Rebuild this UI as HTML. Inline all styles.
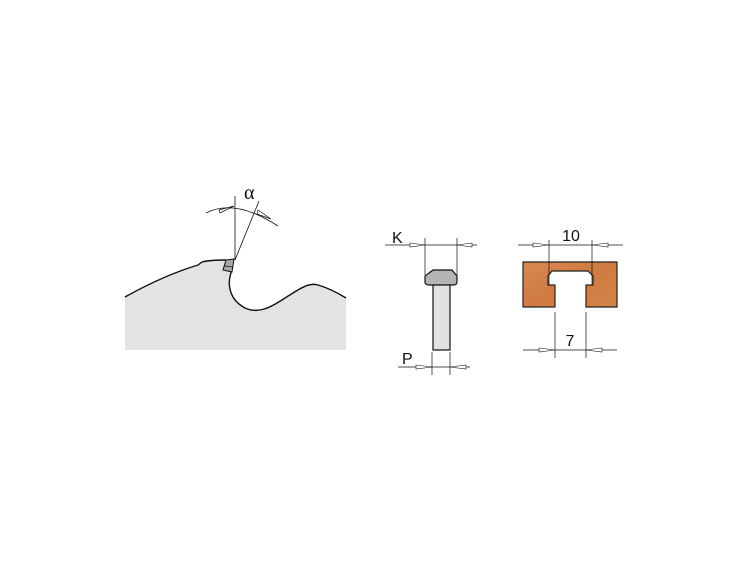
<!DOCTYPE html>
<html><head><style>body{margin:0;background:#fff}svg{display:block}</style></head><body>
<svg width="750" height="565" viewBox="0 0 750 565" xmlns="http://www.w3.org/2000/svg">
<defs>
<linearGradient id="w" x1="0" y1="0" x2="1" y2="1"><stop offset="0" stop-color="#d9894f"/><stop offset="0.5" stop-color="#cf7b42"/><stop offset="1" stop-color="#d58448"/></linearGradient>
</defs>
<!-- saw -->
<path d="M125,297 C150,283 175,272 198,265 L202,262 C210,260 220,260 226,260 L232,270 C226,285 230,300 245,308 C258,314 270,308 285,298 C298,290 308,282 318,285 C328,288 338,293 346,298 L346,350 L125,350 Z" fill="#e3e3e3"/>
<path d="M125,297 C150,283 175,272 198,265 L202,262 C210,260 220,260 226,260 M232,270 C226,285 230,300 245,308 C258,314 270,308 285,298 C298,290 308,282 318,285 C328,288 338,293 346,298" fill="none" stroke="#111" stroke-width="1.4"/>
<path d="M226,260 L234,259 L232,272 L223,270 Z" fill="#aaa" stroke="#111" stroke-width="1"/>
<line x1="224" y1="266" x2="233" y2="267" stroke="#111" stroke-width="0.8"/>
<line x1="235" y1="260" x2="235" y2="196" stroke="#111" stroke-width="0.8"/>
<line x1="235" y1="260" x2="259" y2="201" stroke="#111" stroke-width="0.8"/>
<path d="M206,213 Q235,198 278,226" fill="none" stroke="#111" stroke-width="0.8"/>
<path d="M219,210 L234,206 L220,213 Z M258,210 L271,219 L257,214 Z" fill="#fff" stroke="#111" stroke-width="0.7"/>
<text x="244" y="199" font-family="Liberation Serif,serif" font-size="20" fill="#111">α</text>
<!-- tool K/P -->
<g stroke="#111" stroke-width="0.7" fill="none">
<line x1="385" y1="245" x2="477" y2="245"/>
<line x1="425" y1="238" x2="425" y2="275"/>
<line x1="457" y1="238" x2="457" y2="275"/>
<line x1="398" y1="367" x2="470" y2="367"/>
<line x1="432" y1="352" x2="432" y2="375"/>
<line x1="450" y1="352" x2="450" y2="375"/>
</g>
<path d="M410,243 L425,245 L410,247 Z M472,243 L457,245 L472,247 Z M416,365 L432,367 L416,369 Z M466,365 L450,367 L466,369 Z" fill="#fff" stroke="#111" stroke-width="0.6"/>
<path d="M433,270 L452,270 L457,276 L457,282 Q457,285 453,285 L429,285 Q425,285 425,282 L425,276 Z" fill="#b4b4b4" stroke="#111" stroke-width="1.2"/>
<rect x="433" y="285" width="17" height="65" fill="#e2e2e2" stroke="#111" stroke-width="1.2"/>
<text x="392" y="243" font-family="Liberation Sans,sans-serif" font-size="16" fill="#111">K</text>
<text x="402" y="364" font-family="Liberation Sans,sans-serif" font-size="16" fill="#111">P</text>
<!-- wood -->
<path d="M523,262 L617,262 L617,307 L586,307 L586,285 L593,285 L593,276 L588,271 L552,271 L548,276 L548,285 L555,285 L555,307 L523,307 Z" fill="url(#w)" stroke="#222" stroke-width="1.2"/>
<g stroke="#111" stroke-width="0.7" fill="none">
<line x1="518" y1="245" x2="623" y2="245"/>
<line x1="549" y1="240" x2="549" y2="285"/>
<line x1="592" y1="240" x2="592" y2="285"/>
<line x1="523" y1="350" x2="617" y2="350"/>
<line x1="555" y1="312" x2="555" y2="358"/>
<line x1="586" y1="312" x2="586" y2="358"/>
</g>
<path d="M533,243 L549,245 L533,247 Z M608,243 L592,245 L608,247 Z M539,348 L555,350 L539,352 Z M602,348 L586,350 L602,352 Z" fill="#fff" stroke="#111" stroke-width="0.6"/>
<text x="571" y="241" font-family="Liberation Sans,sans-serif" font-size="16" fill="#111" text-anchor="middle">10</text>
<text x="570" y="346" font-family="Liberation Sans,sans-serif" font-size="16" fill="#111" text-anchor="middle">7</text>
</svg>
</body></html>
